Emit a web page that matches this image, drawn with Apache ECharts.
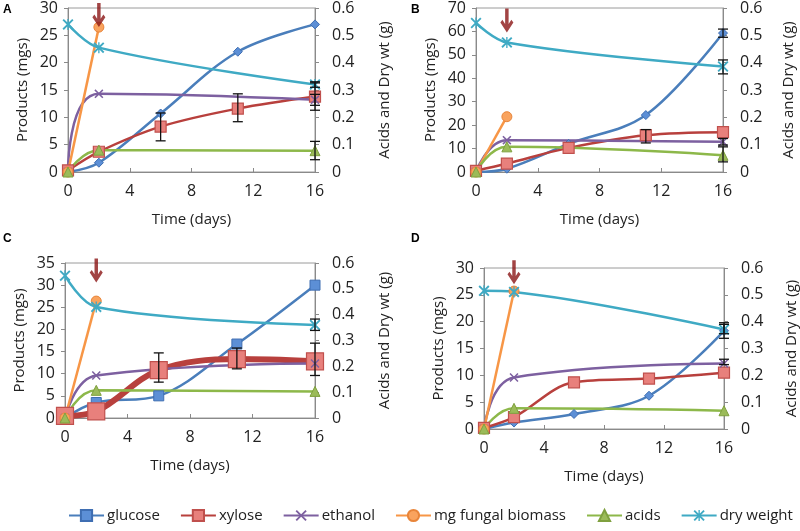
<!DOCTYPE html>
<html><head><meta charset="utf-8">
<script src="https://cdn.jsdelivr.net/npm/echarts@6/dist/echarts.min.js"></script>
<style>html,body{margin:0;padding:0;background:#fff}#c{width:800px;height:531px}</style>
</head><body><div id="c"></div>
<script>
// ---- data ----
const days = [0, 2, 6, 11, 16];
const days3 = [0, 2, 16];
const days2 = [0, 2];
const panelLabels = ['A', 'B', 'C', 'D'];
const leftMax = [30, 70, 35, 30];
const leftStep = [5, 10, 5, 5];
const rightMax = 0.6, rightStep = 0.1;
const xMax = 16, xStep = 4;
const seriesNames = ['glucose', 'xylose', 'ethanol', 'mg fungal biomass', 'acids', 'dry weight'];

// Panel A
const glucoseA = [0, 1.7, 10.7, 22.0, 27.0];
const xyloseA = [0.3, 3.7, 8.3, 11.6, 13.8];
const ethanolA = [0, 14.3, 13.2];
const biomassA = [0, 26.5];
const acidsA = [0, 0.080, 0.078];
const dryWeightA = [0.54, 0.455, 0.32];
const errLeftA = [[6, 5.7, 10.8], [11, 9.2, 14.3], [16, 11.3, 16.3], [16, 12.2, 14.2]];
const errRightA = [[16, 0.045, 0.112], [16, 0.31, 0.33]];
const arrowA = 28.7;

// Panel B
const glucoseB = [0, 1.4, 12.0, 24.3, 59.3];
const xyloseB = [0.5, 3.6, 10.3, 15.7, 17.0];
const ethanolB = [0, 13.6, 12.9];
const biomassB = [0, 23.6];
const acidsB = [0, 0.092, 0.061];
const dryWeightB = [0.545, 0.474, 0.386];
const errLeftB = [[11, 12.4, 18.1], [16, 11.5, 14.3], [16, 57.5, 61.0]];
const errRightB = [[16, 0.359, 0.41], [16, 0.037, 0.092]];
const arrowB = 64.7;

// Panel C
const glucoseC = [0, 3.5, 5.0, 16.7, 30.0];
const xyloseC = [0.5, 1.5, 10.8, 13.3, 12.8];
const ethanolC = [0, 9.6, 12.3];
const biomassC = [0, 26.4];
const acidsC = [0, 0.107, 0.103];
const dryWeightC = [0.551, 0.43, 0.36];
const errLeftC = [[6, 8.1, 14.7], [11, 11.1, 15.8], [16, 9.6, 16.9]];
const errRightC = [[16, 0.339, 0.383]];
const arrowC = 33.3;

// Panel D
const glucoseD = [0, 1.2, 2.8, 6.2, 18.3];
const xyloseD = [0.2, 2.2, 8.7, 9.4, 10.5];
const ethanolD = [0, 9.6, 12.2];
const biomassD = [0, 25.7];
const acidsD = [0, 0.077, 0.068];
const dryWeightD = [0.515, 0.511, 0.371];
const errLeftD = [[16, 16.9, 19.8], [16, 12.0, 13.0]];
const errRightD = [[16, 0.355, 0.39]];
const arrowD = 29.2;

const panels = [
  {g: glucoseA, x: xyloseA, e: ethanolA, b: biomassA, a: acidsA, d: dryWeightA, el: errLeftA, er: errRightA, arrow: arrowA},
  {g: glucoseB, x: xyloseB, e: ethanolB, b: biomassB, a: acidsB, d: dryWeightB, el: errLeftB, er: errRightB, arrow: arrowB},
  {g: glucoseC, x: xyloseC, e: ethanolC, b: biomassC, a: acidsC, d: dryWeightC, el: errLeftC, er: errRightC, arrow: arrowC},
  {g: glucoseD, x: xyloseD, e: ethanolD, b: biomassD, a: acidsD, d: dryWeightD, el: errLeftD, er: errRightD, arrow: arrowD}
];

// ---- layout / style ----
const grids = [
  {left: 68, top: 8, width: 247, height: 164},
  {left: 476, top: 8, width: 247, height: 164},
  {left: 65, top: 263, width: 250, height: 155},
  {left: 484, top: 268, width: 247, height: 161}
];
const rightNameGap = [62, 58, 62, 60];
const labelPos = [[3, 4], [411, 4], [3, 233], [411, 233]];
const FONT = '"Open Sans", "Liberation Sans", sans-serif';
const TXT = '#222';
const AX = '#8a8a8a';

const XMARK = 'path://M0,1.2 L1.2,0 L5,3.8 L8.8,0 L10,1.2 L6.2,5 L10,8.8 L8.8,10 L5,6.2 L1.2,10 L0,8.8 L3.8,5 Z';
const STAR = 'path://M0,1.2 L1.2,0 L5,3.8 L8.8,0 L10,1.2 L6.2,5 L10,8.8 L8.8,10 L5,6.2 L1.2,10 L0,8.8 L3.8,5 Z M4.4,0 L5.6,0 L5.6,10 L4.4,10 Z';
const ARROW = 'path://M4,0 L8,0 L8,13 L11.2,9.5 L13.5,11.7 L6,20 L-1.5,11.7 L0.8,9.5 L4,13 Z';

const zip = (xs, ys) => xs.map((v, i) => [v, ys[i]]);

const xAxes = [], yAxes = [], series = [];
grids.forEach((g, i) => {
  xAxes.push({
    gridIndex: i, type: 'value', min: 0, max: xMax, interval: xStep,
    name: 'Time (days)', nameLocation: 'middle', nameGap: 40,
    nameTextStyle: {fontFamily: FONT, fontSize: 15, color: TXT},
    axisLine: {lineStyle: {color: AX, width: 1}},
    axisTick: {inside: true, length: 4, lineStyle: {color: AX}},
    axisLabel: {fontFamily: FONT, fontSize: 16, color: TXT, margin: 11},
    splitLine: {show: false}
  });
  yAxes.push({
    gridIndex: i, type: 'value', position: 'left', min: 0, max: leftMax[i], interval: leftStep[i],
    name: 'Products (mgs)', nameLocation: 'middle', nameGap: 38, nameRotate: 90,
    nameTextStyle: {fontFamily: FONT, fontSize: 15, color: TXT},
    axisLine: {show: true, lineStyle: {color: AX}},
    axisTick: {show: true, length: 4, lineStyle: {color: AX}},
    axisLabel: {fontFamily: FONT, fontSize: 16, color: TXT, margin: 10},
    splitLine: {show: false}
  });
  yAxes.push({
    gridIndex: i, type: 'value', position: 'right', min: 0, max: rightMax, interval: rightStep,
    name: 'Acids and Dry wt (g)', nameLocation: 'middle', nameGap: rightNameGap[i], nameRotate: 90,
    nameTextStyle: {fontFamily: FONT, fontSize: 15, color: TXT},
    axisLine: {show: true, lineStyle: {color: AX}},
    axisTick: {show: true, length: 4, lineStyle: {color: AX}},
    axisLabel: {fontFamily: FONT, fontSize: 16, color: TXT, margin: 17,
      formatter: v => v === 0 ? '0' : v.toFixed(1)},
    splitLine: {show: false}
  });
});

function errSeries(data, xi, yi) {
  return {
    type: 'custom', xAxisIndex: xi, yAxisIndex: yi, silent: true, z: 4,
    data: data,
    renderItem: (params, api) => {
      const x = api.value(0);
      const lo = api.coord([x, api.value(1)]);
      const hi = api.coord([x, api.value(2)]);
      const st = {stroke: '#111', lineWidth: 1.3};
      return {type: 'group', children: [
        {type: 'line', shape: {x1: lo[0], y1: lo[1], x2: hi[0], y2: hi[1]}, style: st},
        {type: 'line', shape: {x1: lo[0] - 5, y1: lo[1], x2: lo[0] + 5, y2: lo[1]}, style: st},
        {type: 'line', shape: {x1: hi[0] - 5, y1: hi[1], x2: hi[0] + 5, y2: hi[1]}, style: st}
      ]};
    }
  };
}

// order panels so that panel C styles drive the legend icons
[2, 0, 1, 3].forEach(i => {
  const p = panels[i];
  const L = i * 2, R = i * 2 + 1;
  const big = i === 2;
  series.push({
    name: 'glucose', type: 'line', xAxisIndex: i, yAxisIndex: L, smooth: 0.35,
    data: zip(days, p.g), symbol: i === 2 ? 'rect' : 'diamond', symbolSize: i === 2 ? 10 : 9,
    lineStyle: {color: '#4A7EBB', width: 2.5},
    itemStyle: {color: '#5C8FD6', borderColor: '#3F6EB2', borderWidth: 1}, z: 3
  });
  series.push({
    name: 'xylose', type: 'line', xAxisIndex: i, yAxisIndex: L, smooth: 0.35,
    data: zip(days, p.x), symbol: 'rect', symbolSize: big ? 17 : 11,
    lineStyle: {color: '#B8403D', width: big ? 6 : 2.5},
    itemStyle: {color: '#E8807C', borderColor: '#C0504D', borderWidth: 1.2}, z: 3
  });
  series.push({
    name: 'ethanol', type: 'line', xAxisIndex: i, yAxisIndex: L, smooth: 0.45,
    data: zip(days3, p.e), symbol: XMARK, symbolSize: 9,
    lineStyle: {color: '#7D60A0', width: 2.5},
    itemStyle: {color: '#7D60A0'}, z: 3
  });
  series.push({
    name: 'mg fungal biomass', type: 'line', xAxisIndex: i, yAxisIndex: L,
    data: zip(days2, p.b), symbol: 'circle', symbolSize: 10,
    lineStyle: {color: '#F79646', width: 2.5},
    itemStyle: {color: '#F9A35E', borderColor: '#E8853A', borderWidth: 1}, z: 3
  });
  series.push({
    name: 'acids', type: 'line', xAxisIndex: i, yAxisIndex: R, smooth: 0.45,
    data: zip(days3, p.a), symbol: 'triangle', symbolSize: 10,
    lineStyle: {color: '#8DB84A', width: 2.5},
    itemStyle: {color: '#9BBB59', borderColor: '#7FA03F', borderWidth: 1}, z: 3
  });
  series.push({
    name: 'dry weight', type: 'line', xAxisIndex: i, yAxisIndex: R, smooth: 0.35,
    data: zip(days3, p.d), symbol: STAR, symbolSize: 11,
    lineStyle: {color: '#3FAAC4', width: 2.5},
    itemStyle: {color: '#3FAAC4'}, z: 3
  });
  series.push(errSeries(p.el, i, L));
  series.push(errSeries(p.er, i, R));
  series.push({
    type: 'scatter', xAxisIndex: i, yAxisIndex: L, silent: true, z: 6,
    data: [[2, p.arrow]], symbol: ARROW, symbolSize: [13, 24],
    itemStyle: {color: '#8B1515'}
  });
});

const option = {
  animation: false,
  backgroundColor: '#fff',
  textStyle: {fontFamily: FONT},
  grid: grids.map(g => Object.assign({show: true, borderColor: '#9a9a9a', borderWidth: 1, backgroundColor: 'transparent'}, g)),
  xAxis: xAxes,
  yAxis: yAxes,
  legend: {
    data: seriesNames, left: 68, top: 508, width: 732, padding: 0,
    itemWidth: 35, itemHeight: 14, itemGap: 20,
    textStyle: {fontFamily: FONT, fontSize: 15, color: TXT, padding: [0, 0, 0, -2]}
  },
  graphic: panelLabels.map((t, i) => ({
    type: 'text', left: labelPos[i][0], top: labelPos[i][1],
    style: {text: t, font: 'bold 12px "Liberation Sans", Arial, sans-serif', fill: '#000'}
  })),
  series: series
};
const chart = echarts.init(document.getElementById('c'), null, {renderer: 'canvas'});
chart.setOption(option);
</script>
</body></html>
